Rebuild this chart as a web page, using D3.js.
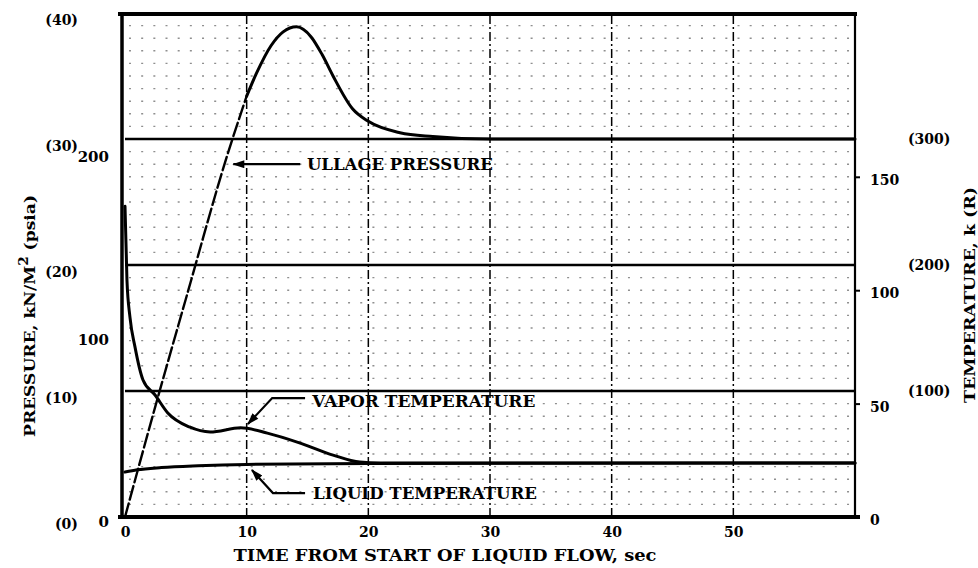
<!DOCTYPE html>
<html>
<head>
<meta charset="utf-8">
<script src="https://cdn.jsdelivr.net/npm/d3@7/dist/d3.min.js"></script>
<style>
  body { margin: 0; background: #fff; }
  svg { display: block; }
  text { font-family: "DejaVu Serif", serif; font-weight: bold; fill: #000; }
</style>
</head>
<body>
<div id="chart"></div>
<script>
var WIDTH = 978, HEIGHT = 568,
  LEFT = 125, RIGHT = 855, TOP = 13, BOTTOM = 517,
  PSI_PER_KPA = 0.145038,
  K_PER_R = 1 / 1.8;

// axis ticks
var timeTicks = [0, 10, 20, 30, 40, 50];
var psiaTicks = [0, 10, 20, 30, 40];
var kpaTicks = [0, 100, 200];
var kelvinTicks = [0, 50, 100, 150];
var rankineTicks = [100, 200, 300];

// ullage pressure (psia) - early ramp is drawn dashed
var ullageRampT = [0, 2.5, 5, 8.5, 10];
var ullageRampP = [0, 8.8, 17.3, 29, 33.4];
var ullageT = [10, 10.8, 12, 13, 14.1, 15.3, 16.2, 17.1, 18.7, 20, 22.6, 25.3, 30, 60];
var ullageP = [33.4, 35.2, 37.4, 38.5, 38.9, 38.1, 36.7, 35, 32.4, 31.4, 30.5, 30.2, 30, 30];

// vapor temperature (K)
var vaporT = [0, 0.16, 0.41, 0.82, 1.48, 2.47, 3.5, 5.3, 7, 9.5, 11.7, 14.4, 17.1, 19.3, 21, 60];
var vaporK = [137, 104.5, 88, 75, 60.4, 53.8, 46, 39.7, 37.5, 39.3, 37, 32.6, 27.3, 24.2, 23.8, 23.8];

// liquid temperature (K)
var liquidT = [0, 1, 3, 6, 10, 20, 60];
var liquidK = [19.8, 20.8, 21.8, 22.6, 23.2, 23.6, 23.8];

// curve labels, in time / psia units
var labels = [
  { text: "ULLAGE PRESSURE", t: 14.95, p: 28.0, len: 186, arrow: [[14.4, 28.0], [8.9, 28.0]] },
  { text: "VAPOR TEMPERATURE", t: 15.4, p: 9.2, len: 223, arrow: [[14.8, 9.44], [12.1, 9.44], [10.1, 7.38]] },
  { text: "LIQUID TEMPERATURE", t: 15.45, p: 1.9, len: 224, arrow: [[14.8, 1.9], [12.16, 1.9], [10.43, 3.73]] }
];

var x = d3.scaleLinear().domain([0, 60]).range([LEFT, RIGHT]);
var yP = d3.scaleLinear().domain([0, 40]).range([BOTTOM, TOP]);
var yKpa = d3.scaleLinear().domain([0, 40 / PSI_PER_KPA]).range([BOTTOM, TOP]);
var yK = d3.scaleLinear().domain([0, 400 * K_PER_R]).range([BOTTOM, TOP]);
var yR = d3.scaleLinear().domain([0, 400]).range([BOTTOM, TOP]);

var svg = d3.select("#chart").append("svg")
  .attr("width", WIDTH)
  .attr("height", HEIGHT);

var defs = svg.append("defs");
defs.append("marker")
  .attr("id", "arrowHead")
  .attr("viewBox", "0 0 12 8")
  .attr("refX", "11")
  .attr("refY", "4")
  .attr("markerUnits", "userSpaceOnUse")
  .attr("markerWidth", "13")
  .attr("markerHeight", "8")
  .attr("orient", "auto")
  .append("path")
  .attr("d", "M 0 0 L 12 4 L 0 8 z")
  .style("fill", "#000");

// dotted minor rows of the graph paper
var minorRows = d3.range(1, 40).filter(function (p) { return p % 10 !== 0; });
svg.append("g").selectAll("line")
  .data(minorRows)
  .enter().append("line")
  .attr("x1", x(0) + 4).attr("x2", x(60) - 2)
  .attr("y1", function (d) { return yP(d); })
  .attr("y2", function (d) { return yP(d); })
  .style("stroke", "#222")
  .style("stroke-width", 1.4)
  .style("stroke-dasharray", "2," + (x(1) - x(0) - 2).toFixed(2))
  .style("opacity", 0.5);

// vertical dash-dot grid
svg.append("g").selectAll("line")
  .data(timeTicks.slice(1))
  .enter().append("line")
  .attr("x1", function (d) { return x(d); })
  .attr("x2", function (d) { return x(d); })
  .attr("y1", TOP + 2).attr("y2", BOTTOM)
  .style("stroke", "#000")
  .style("stroke-width", 1.5)
  .style("stroke-dasharray", "9,3,2,3");

// major horizontal lines
svg.append("g").selectAll("line")
  .data([10, 20, 30])
  .enter().append("line")
  .attr("x1", x(0)).attr("x2", RIGHT)
  .attr("y1", function (d) { return yP(d); })
  .attr("y2", function (d) { return yP(d); })
  .style("stroke", "#000")
  .style("stroke-width", 2.5);

// frame
var frame = svg.append("g").style("stroke", "#000");
frame.append("line").attr("x1", 118).attr("x2", RIGHT + 2).attr("y1", TOP + 1).attr("y2", TOP + 1).style("stroke-width", 4);
frame.append("line").attr("x1", 122).attr("x2", 122).attr("y1", TOP - 1).attr("y2", BOTTOM + 2).style("stroke-width", 3.5);
frame.append("line").attr("x1", 118).attr("x2", RIGHT + 5).attr("y1", BOTTOM).attr("y2", BOTTOM).style("stroke-width", 4);
frame.append("line").attr("x1", RIGHT).attr("x2", RIGHT).attr("y1", TOP).attr("y2", BOTTOM + 2).style("stroke-width", 2.2);

// curves
function zip(ts, vs) { return ts.map(function (t, i) { return [t, vs[i]]; }); }

var lineP = d3.line()
  .x(function (d) { return x(d[0]); })
  .y(function (d) { return yP(d[1]); })
  .curve(d3.curveMonotoneX);
var lineK = d3.line()
  .x(function (d) { return x(d[0]); })
  .y(function (d) { return yK(d[1]); })
  .curve(d3.curveMonotoneX);

var curves = svg.append("g")
  .style("fill", "none")
  .style("stroke", "#000")
  .style("stroke-linecap", "round");

curves.append("path")
  .attr("d", lineP(zip(ullageRampT, ullageRampP)))
  .style("stroke-width", 2.4)
  .style("stroke-dasharray", "14,4");
curves.append("path")
  .attr("d", lineP(zip(ullageT, ullageP)))
  .style("stroke-width", 3);
curves.append("path")
  .attr("d", lineK(zip(vaporT, vaporK)))
  .style("stroke-width", 3);
curves.append("path")
  .attr("d", lineK(zip(liquidT, liquidK)))
  .style("stroke-width", 3);

// labels with arrows
var lab = svg.append("g").selectAll("g")
  .data(labels)
  .enter().append("g");

lab.append("path")
  .attr("d", function (d) {
    return d3.line().x(function (p) { return x(p[0]); }).y(function (p) { return yP(p[1]); })(d.arrow);
  })
  .style("fill", "none")
  .style("stroke", "#000")
  .style("stroke-width", 2.2)
  .attr("marker-end", "url(#arrowHead)");

lab.append("text")
  .attr("x", function (d) { return x(d.t); })
  .attr("y", function (d) { return yP(d.p); })
  .attr("dominant-baseline", "central")
  .attr("textLength", function (d) { return d.len; })
  .attr("lengthAdjust", "spacingAndGlyphs")
  .style("font-size", "17px")
  .text(function (d) { return d.text; });

// axes
function styleAxis(g, size) {
  g.select(".domain").remove();
  g.selectAll("text")
    .style("font-family", '"DejaVu Serif", serif')
    .style("font-weight", "bold")
    .style("font-size", size + "px");
}

svg.append("g")
  .attr("transform", "translate(0," + BOTTOM + ")")
  .call(d3.axisBottom(x).tickValues(timeTicks).tickSize(0).tickPadding(10))
  .call(styleAxis, 14);

svg.append("g")
  .attr("transform", "translate(78,7)")
  .call(d3.axisLeft(yP).tickValues(psiaTicks).tickSize(0).tickPadding(0)
    .tickFormat(function (d) { return "(" + d + ")"; }))
  .call(styleAxis, 14);

svg.append("g")
  .attr("transform", "translate(109,5)")
  .call(d3.axisLeft(yKpa).tickValues(kpaTicks).tickSize(0).tickPadding(0))
  .call(styleAxis, 15);

var kAxis = svg.append("g")
  .attr("transform", "translate(" + RIGHT + ",0)")
  .call(d3.axisRight(yK).tickValues(kelvinTicks).tickSize(5).tickPadding(10))
  .call(styleAxis, 14);
kAxis.selectAll("line").style("stroke-width", 2);
kAxis.selectAll("text").attr("y", 3);

svg.append("g")
  .attr("transform", "translate(908,0)")
  .call(d3.axisRight(yR).tickValues(rankineTicks).tickSize(0).tickPadding(0)
    .tickFormat(function (d) { return "(" + d + ")"; }))
  .call(styleAxis, 14);

// axis titles
svg.append("text")
  .attr("x", 445).attr("y", 555)
  .attr("dominant-baseline", "central")
  .attr("text-anchor", "middle")
  .attr("textLength", 423)
  .attr("lengthAdjust", "spacingAndGlyphs")
  .style("font-size", "16px")
  .text("TIME FROM START OF LIQUID FLOW, sec");

var leftTitle = svg.append("text")
  .attr("transform", "translate(30,316) rotate(-90)")
  .attr("dominant-baseline", "central")
  .attr("text-anchor", "middle")
  .attr("textLength", 242)
  .attr("lengthAdjust", "spacingAndGlyphs")
  .style("font-size", "15px");
leftTitle.append("tspan").text("PRESSURE, kN/M");
leftTitle.append("tspan").attr("dy", -6).style("font-size", "12px").text("2");
leftTitle.append("tspan").attr("dy", 6).text(" (psia)");

svg.append("text")
  .attr("transform", "translate(970,295) rotate(-90)")
  .attr("dominant-baseline", "central")
  .attr("text-anchor", "middle")
  .attr("textLength", 216)
  .attr("lengthAdjust", "spacingAndGlyphs")
  .style("font-size", "15px")
  .text("TEMPERATURE, k (R)");
</script>
</body>
</html>
